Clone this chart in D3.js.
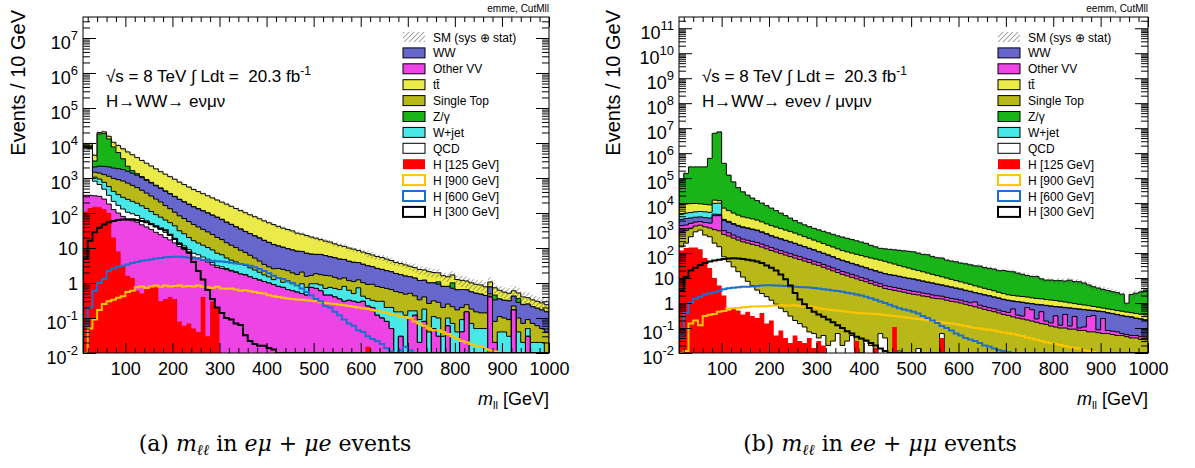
<!DOCTYPE html>
<html>
<head>
<meta charset="utf-8">
<script src="https://cdn.jsdelivr.net/npm/d3@7"></script>
<style>
  body { margin: 0; background: #fff; }
  svg text { font-family: "Liberation Sans", Arial, Helvetica, sans-serif; }
</style>
</head>
<body>
<svg id="chart" width="1195" height="468"></svg>
<script>
// lower edges of the 10 GeV m_ll bins (10 .. 990)
const binLow = d3.range(10, 1000, 10);

// ---------- (a) e-mu + mu-e channel, events / 10 GeV ----------
const otherVV_A = [320, 320, 310, 300, 250, 180, 125, 100, 80, 63,
  60, 55, 46, 40, 34, 28, 24, 20, 17, 14,
  11, 9, 7, 5.5, 5.2, 4.5, 4, 3.3, 2.8, 2.6,
  2.4, 2.2, 2.0, 1.8, 1.7, 1.5, 1.35, 1.2, 1.1, 1.0,
  0.9, 0.8, 0.75, 0.65, 0.6, 0.55, 0.5, 0.45, 0.75, 0.7,
  0.6, 0.45, 0.45, 0.4, 0.35, 0.3, 0.32, 0.3, 0.28, 0.3,
  0.22, 0.2, 0.12, 0.1, 0.08, 0.05, 0, 0.03, 0, 0.1,
  0.12, 0.02, 0.08, 0, 0.05, 0.03, 0, 0.06, 0, 0,
  0.04, 0.15, 0, 0, 0, 0, 0.4, 0.02, 0, 0,
  0, 0.17, 0, 0, 0.03, 0, 0, 0, 0];
const qcd_A = [7000, 6500, 500, 350, 230, 140, 90, 65, 50, 42,
  35, 30, 24, 20, 16, 12, 10, 8, 6, 5,
  3, 2.5, 2, 1.6, 1.2, 1, 0.8, 0.5, 0.3, 0.3,
  0.2, 0.1, 0.1, 0, 0.05, 0, 0, 0.03, 0, 0,
  0, 0, 0, 0, 0, 0, 0, 0, 0, 0,
  0, 0, 0, 0, 0, 0, 0, 0, 0, 0,
  0, 0, 0, 0, 0, 0, 0, 0, 0, 0,
  0, 0, 0, 0, 0, 0, 0, 0, 0, 0,
  0, 0, 0, 0, 0, 0, 0, 0, 0, 0,
  0, 0, 0, 0, 0, 0, 0, 0, 0];
const wjet_A = [150, 200, 250, 280, 270, 250, 200, 170, 150, 140,
  120, 105, 90, 75, 60, 50, 42, 35, 30, 24,
  17, 14, 11, 9, 7.5, 6.5, 5.5, 5, 4, 3.5,
  2.6, 2.2, 1.9, 1.6, 1.4, 1.2, 1.0, 0.8, 0.6, 0.5,
  0.35, 0.6, 0.3, 0.5, 0.35, 0.3, 0.45, 0.3, 0.2, 0.25,
  0.28, 0.25, 0.3, 0.3, 0.3, 0.5, 0.3, 0.2, 0.45, 0.12,
  0.14, 0.12, 0.18, 0.2, 0.12, 0.15, 0.15, 0.12, 0.12, 0.06,
  0.04, 0.07, 0.1, 0.04, 0.06, 0.07, 0.03, 0.04, 0.07, 0.04,
  0.05, 0, 0.07, 0.05, 0.05, 0.05, 0.02, 0, 0.04, 0.04,
  0.03, 0, 0.04, 0.02, 0.02, 0.02, 0.02, 0.02, 0.01];
const singleTop_A = [200, 300, 400, 450, 500, 550, 560, 560, 540, 470,
  400, 340, 285, 235, 195, 160, 130, 100, 80, 62,
  52, 44, 37, 31, 26, 22, 18.5, 15.5, 13, 11,
  9, 7.5, 6.3, 5.2, 4.3, 3.5, 2.8, 2.2, 1.7, 1.4,
  1.3, 1.2, 1.4, 1.1, 1.0, 0.9, 1.1, 0.8, 0.7, 0.9,
  0.85, 0.95, 0.85, 0.75, 0.65, 0.6, 0.55, 0.6, 0.5, 0.6,
  0.55, 0.6, 0.5, 0.45, 0.5, 0.45, 0.42, 0.38, 0.36, 0.35,
  0.27, 0.24, 0.22, 0.22, 0.2, 0.18, 0.17, 0.15, 0.14, 0.13,
  0.11, 0.09, 0.11, 0.1, 0.09, 0.09, 0.07, 0.06, 0.07, 0.06,
  0.06, 0.05, 0.06, 0.05, 0.04, 0.05, 0.04, 0.03, 0.03];
const ww_A = [300, 400, 600, 800, 900, 950, 950, 950, 930, 850,
  760, 670, 580, 490, 415, 350, 300, 255, 218, 188,
  160, 137, 119, 103, 91, 81, 71, 62, 55, 48,
  40, 35, 30, 26, 22, 19.5, 17, 15, 13, 11.5,
  10, 8.8, 8, 7.3, 6.8, 6.3, 5.9, 5.5, 5.0, 4.7,
  4.8, 4.4, 4.0, 3.8, 3.5, 3.3, 3.0, 2.8, 2.6, 2.4,
  2.2, 2.0, 1.8, 1.7, 1.55, 1.45, 1.3, 1.2, 1.1, 1.0,
  0.95, 0.85, 0.8, 0.75, 0.7, 0.65, 0.6, 0.55, 0.5, 0.47,
  0.45, 0.4, 0.38, 0.36, 0.34, 0.3, 0.28, 0.25, 0.24, 0.22,
  0.22, 0.2, 0.18, 0.17, 0.16, 0.14, 0.13, 0.12, 0.11];
const zgamma_A = [200, 600, 1000, 16000, 16500, 11000, 5800, 3500, 1800, 600,
  250, 130, 70, 45, 30, 20, 14, 10, 8, 6,
  4, 3, 2.5, 2, 1.6, 1.3, 1.1, 0.9, 0.8, 0.7,
  0.6, 0.5, 0.4, 0.4, 0.3, 0.3, 0.2, 0.2, 0.2, 0.15,
  0.1, 0.1, 0.1, 0.08, 0.05, 0.05, 0.05, 0.04, 0.03, 0.03,
  0.03, 0.02, 0.02, 0.02, 0.02, 0.01, 0.01, 0.01, 0.01, 0.01,
  0.01, 0, 0.01, 0, 0.01, 0, 0, 0.01, 0, 0,
  0, 0, 0, 0, 0, 0.15, 0, 0, 0.3, 0,
  0, 0, 0, 0, 0, 0, 0, 0.12, 0, 0,
  0, 0, 0.08, 0, 0, 0, 0, 0, 0];
const ttbar_A = [1100, 1200, 1400, 1800, 2200, 2500, 2800, 3100, 3300, 3400,
  3000, 2500, 2080, 1740, 1450, 1210, 1000, 860, 735, 625,
  516, 440, 374, 318, 277, 241, 210, 183, 159, 139,
  125, 108, 94, 82, 72, 63, 56, 49, 43, 38,
  34, 30, 26.5, 24, 22, 18.5, 17, 15.5, 14, 12.5,
  10.8, 9.7, 9.2, 7.9, 7.1, 6.4, 5.8, 5.4, 4.7, 4.2,
  3.8, 3.4, 3.1, 2.9, 2.55, 2.3, 2.0, 1.85, 1.7, 1.5,
  1.38, 1.25, 1.16, 1.1, 0.98, 0.88, 0.82, 0.7, 0.69, 0.62,
  0.54, 0.5, 0.45, 0.41, 0.4, 0.34, 0.3, 0.28, 0.27, 0.23,
  0.2, 0.18, 0.16, 0.16, 0.13, 0.12, 0.11, 0.1, 0.09];
const h125_A = [110, 140, 150, 145, 130, 100, 20, 8, 3.2, 1.6,
  1.4, 0.6, 0.5, 0.7, 0.8, 0.75, 0.3, 0.35, 0.4, 0.35,
  0.08, 0.06, 0.07, 0.05, 0.04, 0.4, 0.03, 0.3, 0.2, 0,
  0, 0, 0, 0, 0, 0, 0, 0, 0, 0,
  0, 0, 0, 0, 0, 0, 0, 0, 0, 0,
  0, 0, 0, 0, 0, 0, 0, 0, 0, 0,
  0.015, 0, 0, 0, 0, 0, 0, 0, 0, 0,
  0, 0, 0, 0, 0, 0, 0, 0, 0, 0,
  0, 0, 0, 0, 0, 0, 0, 0, 0, 0,
  0, 0, 0, 0, 0, 0, 0, 0, 0];
const h900_A = [0, 0.05, 0.09, 0.17, 0.25, 0.3, 0.33, 0.38, 0.42, 0.55,
  0.6, 0.75, 0.8, 0.72, 0.8, 0.85, 0.78, 0.85, 0.8, 0.82,
  0.85, 0.8, 0.82, 0.8, 0.85, 0.78, 0.75, 0.72, 0.78, 0.7,
  0.68, 0.7, 0.65, 0.6, 0.62, 0.58, 0.55, 0.52, 0.5, 0.45,
  0.42, 0.4, 0.38, 0.36, 0.35, 0.34, 0.33, 0.32, 0.31, 0.3,
  0.28, 0.27, 0.26, 0.25, 0.24, 0.23, 0.22, 0.21, 0.2, 0.19,
  0.18, 0.17, 0.16, 0.15, 0.14, 0.13, 0.12, 0.11, 0.105, 0.1,
  0.08, 0.07, 0.06, 0.05, 0.045, 0.045, 0.04, 0.035, 0.03, 0.025,
  0.022, 0.02, 0.018, 0.016, 0.015, 0.013, 0.012, 0.011, 0, 0,
  0, 0, 0, 0, 0, 0, 0, 0, 0];
const h600_A = [0.06, 0.2, 0.6, 1.0, 1.3, 2.2, 2.6, 2.9, 3.1, 3.4,
  3.7, 4.0, 4.3, 4.5, 4.7, 5.0, 5.2, 5.4, 5.5, 5.6,
  5.6, 5.5, 5.3, 5.1, 4.9, 4.6, 4.5, 4.3, 4.2, 4.1,
  4.0, 3.8, 3.6, 3.5, 3.3, 3.1, 2.8, 2.5, 2.2, 1.9,
  1.6, 1.4, 1.3, 1.1, 1.0, 0.85, 0.7, 0.55, 0.45, 0.35,
  0.3, 0.22, 0.2, 0.15, 0.12, 0.09, 0.07, 0.06, 0.045, 0.04,
  0.03, 0.025, 0.022, 0.018, 0.014, 0.011, 0.009, 0.012, 0.015, 0.012,
  0.008, 0, 0, 0, 0, 0, 0, 0, 0, 0,
  0, 0, 0, 0, 0, 0, 0, 0, 0, 0,
  0, 0, 0, 0, 0, 0, 0, 0, 0];
const h300_A = [5, 16, 28, 38, 47, 54, 59, 63, 65, 66,
  66, 63, 59, 54, 48, 42, 36, 32, 24, 18,
  13, 10, 7.6, 4, 2.2, 1.26, 0.63, 0.35, 0.2, 0.14,
  0.1, 0.09, 0.07, 0.063, 0.032, 0.022, 0.018, 0.016, 0.016, 0.014,
  0.0125, 0.01, 0, 0, 0, 0, 0, 0, 0, 0,
  0, 0, 0, 0, 0, 0, 0, 0, 0, 0,
  0, 0, 0, 0, 0, 0, 0, 0, 0, 0,
  0, 0, 0, 0, 0, 0, 0, 0, 0, 0,
  0, 0, 0, 0, 0, 0, 0, 0, 0, 0,
  0, 0, 0, 0, 0, 0, 0, 0, 0];
// relative SM uncertainty, one value per 100 GeV
const sys_A = [0.12, 0.06, 0.07, 0.09, 0.12, 0.15, 0.2, 0.28, 0.35, 0.4];

// ---------- (b) e-e + mu-mu channel ----------
const qcd_B = [178, 250, 450, 710, 830, 525, 450, 250, 180, 71,
  45, 28, 18, 11, 7.4, 5, 3.3, 2.4, 1.8, 1.3,
  0.9, 0.62, 0.45, 0.3, 0.2, 0.15, 0.11, 0.07, 0.06, 0.04,
  0.05, 0.02, 0.03, 0.06, 0.02, 0.03, 0.05, 0.015, 0, 0.03,
  0.02, 0, 0.06, 0.04, 0, 0, 0.012, 0, 0, 0,
  0.015, 0, 0, 0, 0, 0.06, 0, 0, 0, 0,
  0, 0, 0, 0, 0, 0, 0, 0, 0, 0,
  0, 0, 0, 0, 0, 0, 0, 0, 0, 0,
  0, 0, 0, 0, 0, 0, 0, 0, 0, 0,
  0, 0, 0, 0, 0, 0, 0, 0, 0];
const singleTop_B = [530, 560, 540, 500, 480, 600, 560, 620, 600, 490,
  435, 370, 313, 271, 244, 219, 197, 172, 146, 125,
  110, 95, 83, 72, 63, 55, 48, 42, 36, 32,
  27, 23, 19.5, 16.6, 14, 12.3, 10.7, 9.3, 8.1, 7.1,
  6.0, 5.2, 4.5, 3.8, 3.5, 3.2, 2.95, 2.7, 2.45, 2.24,
  2.1, 1.9, 1.8, 1.6, 1.5, 1.4, 1.3, 1.17, 1.1, 1.0,
  0.89, 0.79, 0.71, 0.63, 0.56, 0.5, 0.45, 0.4, 0.35, 0.32,
  0.28, 0.25, 0.23, 0.21, 0.19, 0.17, 0.15, 0.14, 0.12, 0.11,
  0.1, 0.1, 0.09, 0.09, 0.08, 0.08, 0.07, 0.07, 0.065, 0.06,
  0.06, 0.055, 0.05, 0.05, 0.045, 0.04, 0.04, 0.035, 0.034];
const otherVV_B = [550, 520, 560, 540, 520, 540, 580, 2270, 2370, 230,
  167, 127, 106, 81, 73, 71, 63, 55, 47, 40,
  33, 29, 25, 22, 19, 16.5, 14, 12.5, 11, 9.5,
  8, 7, 6, 5, 4.2, 3.7, 3.2, 2.8, 2.4, 2.1,
  1.8, 1.6, 1.35, 1.15, 1.05, 1.0, 0.9, 0.8, 0.75, 0.7,
  0.65, 0.6, 0.55, 0.5, 0.45, 0.42, 0.38, 0.35, 0.33, 0.3,
  0.27, 0.24, 0.4, 0.19, 0.17, 0.15, 0.14, 0.12, 0.11, 0.1,
  0.3, 0.08, 0.07, 0.45, 0.35, 0.06, 0.3, 0.05, 0.04, 0.2,
  0.03, 0.25, 0.03, 0.2, 0.02, 0.03, 0.22, 0.25, 0.02, 0.18,
  0.02, 0.02, 0.02, 0.01, 0.01, 0.01, 0.01, 0.01, 0.01];
const ww_B = [980, 1080, 1000, 970, 970, 970, 930, 470, 390, 1200,
  1050, 890, 763, 687, 631, 576, 531, 447, 380, 313,
  274, 239, 208, 181, 158, 132, 116, 97, 85, 71,
  61, 52, 44, 37, 32, 28, 24, 21, 18.3, 16,
  14, 12.3, 10.8, 9.8, 8.9, 8.4, 7.6, 7.0, 6.4, 6.0,
  5.4, 4.9, 4.4, 4.1, 3.65, 3.3, 3.0, 2.75, 2.45, 2.25,
  2.0, 1.85, 1.46, 1.52, 1.36, 1.26, 1.12, 1.03, 0.92, 0.84,
  0.59, 0.79, 0.75, 0.31, 0.39, 0.63, 0.38, 0.6, 0.58, 0.4,
  0.55, 0.3, 0.5, 0.3, 0.46, 0.43, 0.22, 0.17, 0.38, 0.21,
  0.32, 0.3, 0.27, 0.25, 0.23, 0.22, 0.19, 0.18, 0.16];
const wjet_B = [1310, 1600, 1660, 1740, 1820, 1840, 1760, 6140, 6450, 240,
  160, 100, 90, 70, 65, 41, 38, 32, 28, 18,
  14, 11, 9.5, 8, 7, 6, 5.3, 4.5, 4, 3.4,
  2.9, 2.4, 2.1, 1.8, 1.5, 1.3, 1.1, 1.0, 0.9, 0.75,
  0.65, 0.6, 0.5, 0.45, 0.4, 0.38, 0.35, 0.3, 0.29, 0.27,
  0.24, 0.22, 0.2, 0.19, 0.17, 0.15, 0.14, 0.13, 0.12, 0.1,
  0.09, 0.09, 0.08, 0.07, 0.06, 0.06, 0.05, 0.05, 0.04, 0.04,
  0.04, 0.03, 0.03, 0.03, 0.03, 0.03, 0.02, 0.02, 0.02, 0.02,
  0.02, 0.02, 0.02, 0.02, 0.02, 0.015, 0.015, 0.015, 0.015, 0.01,
  0.01, 0.01, 0.01, 0.01, 0.01, 0.01, 0.01, 0.01, 0.01];
const ttbar_B = [5350, 5300, 5400, 5200, 4760, 4430, 4230, 3430, 2600, 4070,
  3150, 2470, 2020, 1700, 1550, 1430, 1260, 1070, 877, 759,
  667, 581, 507, 441, 384, 327, 274, 233, 195, 167,
  142, 120, 103, 87, 74, 67, 61, 55, 50, 45,
  41, 38, 35, 31.5, 26.8, 23.3, 19.8, 17.4, 15.3, 13.2,
  11.6, 10.2, 8.9, 7.7, 6.8, 5.9, 5.2, 4.5, 3.9, 3.4,
  3.05, 2.65, 2.25, 1.96, 1.74, 1.5, 1.34, 1.1, 0.98, 0.84,
  0.8, 0.75, 0.74, 0.74, 0.66, 0.63, 0.63, 0.57, 0.56, 0.53,
  0.47, 0.43, 0.38, 0.34, 0.31, 0.28, 0.26, 0.22, 0.2, 0.17,
  0.17, 0.16, 0.15, 0.15, 0.14, 0.13, 0.13, 0.12, 0.12];
const zgamma_B = [74000, 146000, 272000, 272000, 272000, 273000, 608000, 6160000, 7070000, 383000,
  127000, 66800, 38400, 25400, 18300, 13500, 10500, 8220, 6460, 5050,
  3916, 3026, 2330, 1788, 1364, 1085, 892, 759, 646, 569,
  501, 442, 388, 342, 311, 277, 247, 220, 196, 174,
  141, 120, 102, 101, 100, 99, 97, 95, 92, 90,
  80, 71, 70, 58, 52, 52, 42.5, 39, 36.8, 32.7,
  30.9, 28.3, 26, 26, 22.4, 21, 19.8, 17, 17.6, 16.5,
  15.8, 13.9, 12.3, 10.9, 9.9, 10, 7.8, 6.9, 7.0, 6.6,
  6.7, 6.5, 7.2, 6.3, 6.2, 5.5, 4.5, 3.75, 3.3, 2.9,
  2.6, 2.3, 2.1, 1.8, 0.55, 1.8, 2.1, 2.4, 3.0];
const h125_B = [126, 158, 166, 166, 141, 63, 25, 10, 5, 2,
  0.5, 0.63, 0.5, 0.35, 0.45, 0.3, 0.25, 0.4, 0.15, 0.2,
  0.05, 0.08, 0.04, 0.025, 0.05, 0.03, 0.025, 0.04, 0.016, 0.03,
  0.02, 0, 0, 0, 0, 0, 0, 0.03, 0, 0,
  0, 0.016, 0, 0, 0, 0.11, 0, 0, 0, 0,
  0, 0, 0, 0, 0, 0.04, 0, 0, 0, 0,
  0, 0, 0, 0, 0, 0, 0, 0, 0, 0,
  0, 0, 0, 0, 0, 0, 0, 0, 0, 0,
  0, 0, 0, 0, 0, 0, 0, 0, 0, 0,
  0, 0, 0, 0, 0, 0, 0, 0, 0];
const h900_B = [0, 0.012, 0.15, 0.2, 0.13, 0.3, 0.34, 0.36, 0.45, 0.48,
  0.6, 0.62, 0.63, 0.68, 0.7, 0.72, 0.72, 0.75, 0.75, 0.78,
  0.8, 0.82, 0.8, 0.8, 0.82, 0.78, 0.75, 0.72, 0.68, 0.62,
  0.58, 0.55, 0.52, 0.5, 0.48, 0.45, 0.43, 0.41, 0.39, 0.38,
  0.37, 0.36, 0.35, 0.33, 0.32, 0.3, 0.29, 0.27, 0.26, 0.24,
  0.23, 0.22, 0.2, 0.19, 0.18, 0.17, 0.16, 0.15, 0.14, 0.13,
  0.12, 0.11, 0.1, 0.095, 0.09, 0.085, 0.08, 0.072, 0.066, 0.062,
  0.058, 0.052, 0.048, 0.042, 0.038, 0.034, 0.03, 0.027, 0.025, 0.023,
  0.021, 0.019, 0.017, 0.016, 0.015, 0.013, 0.012, 0.011, 0, 0,
  0, 0, 0, 0, 0, 0, 0, 0, 0];
const h600_B = [0.05, 0.4, 1.0, 1.5, 1.8, 2.2, 2.45, 2.7, 3.0, 3.6,
  3.9, 4.1, 4.3, 4.5, 4.5, 4.6, 4.8, 5.0, 5.2, 5.1,
  5.0, 4.9, 4.8, 4.6, 4.5, 4.4, 4.3, 4.2, 4.0, 3.8,
  3.6, 3.4, 3.2, 3.0, 2.8, 2.6, 2.4, 2.2, 2.0, 1.8,
  1.55, 1.35, 1.15, 1.0, 0.85, 0.72, 0.62, 0.55, 0.5, 0.45,
  0.38, 0.3, 0.25, 0.2, 0.16, 0.12, 0.1, 0.08, 0.06, 0.05,
  0.04, 0.035, 0.03, 0.025, 0.02, 0.018, 0.015, 0.013, 0.012, 0.011,
  0, 0, 0, 0, 0, 0, 0, 0, 0, 0,
  0, 0, 0, 0, 0, 0, 0, 0, 0, 0,
  0, 0, 0, 0, 0, 0, 0, 0, 0];
const h300_B = [3.2, 11, 20, 26, 33, 40, 46, 50, 54, 58,
  60, 62, 60, 58, 54, 50, 46, 40, 32, 26,
  20, 14, 8.9, 5, 2.5, 1.4, 0.89, 0.63, 0.45, 0.35,
  0.28, 0.22, 0.17, 0.13, 0.1, 0.075, 0.06, 0.045, 0.038, 0.032,
  0.025, 0.02, 0.015, 0.012, 0.01, 0, 0, 0, 0, 0,
  0, 0, 0, 0, 0, 0, 0, 0, 0, 0,
  0, 0, 0, 0, 0, 0, 0, 0, 0, 0,
  0, 0, 0, 0, 0, 0, 0, 0, 0, 0,
  0, 0, 0, 0, 0, 0, 0, 0, 0, 0,
  0, 0, 0, 0, 0, 0, 0, 0, 0];
const sys_B = [0.1, 0.06, 0.07, 0.08, 0.1, 0.13, 0.16, 0.2, 0.25, 0.3];

// axis tick labels
const xMajor = [100, 200, 300, 400, 500, 600, 700, 800, 900, 1000];
const xMinor = d3.range(20, 1000, 20).filter(v => v % 100 !== 0);

const styles = {
  ww:        { label: 'WW',          fill: '#6666cc' },
  otherVV:   { label: 'Other VV',    fill: '#ee44e6' },
  ttbar:     { label: 'tt\u0304',    fill: '#eaea48' },
  singleTop: { label: 'Single Top',  fill: '#b8b818' },
  zgamma:    { label: 'Z/\u03b3',    fill: '#18b418' },
  wjet:      { label: 'W+jet',       fill: '#48e8e8' },
  qcd:       { label: 'QCD',         fill: '#ffffff' },
  h125:      { label: 'H [125 GeV]', fill: '#ff0000' },
  h900:      { label: 'H [900 GeV]', line: '#ffc400' },
  h600:      { label: 'H [600 GeV]', line: '#1e6fcd' },
  h300:      { label: 'H [300 GeV]', line: '#000000' }
};
const legendOrder = ['ww', 'otherVV', 'ttbar', 'singleTop', 'zgamma', 'wjet', 'qcd', 'h125', 'h900', 'h600', 'h300'];

const panels = [
  {
    id: 'a', left: 83, right: 549, top: 17, bottom: 353, yMax: Math.pow(10, 7.6),
    stack: ['otherVV', 'qcd', 'wjet', 'singleTop', 'ww', 'zgamma', 'ttbar'],
    data: { otherVV: otherVV_A, qcd: qcd_A, wjet: wjet_A, singleTop: singleTop_A, ww: ww_A,
            zgamma: zgamma_A, ttbar: ttbar_A, h125: h125_A, h900: h900_A, h600: h600_A, h300: h300_A },
    sys: sys_A, header: 'emme, CutMll', channel: 'H\u2192WW\u2192 e\u03bd\u03bc\u03bd',
    textX: 106, titleX: 25, legendX: 403, captionX: 275,
    caption: ['(a) ', 'e\u03bc', '\u03bce']
  },
  {
    id: 'b', left: 679, right: 1148, top: 17, bottom: 353, yMax: Math.pow(10, 11.45),
    stack: ['qcd', 'singleTop', 'otherVV', 'ww', 'wjet', 'ttbar', 'zgamma'],
    data: { otherVV: otherVV_B, qcd: qcd_B, wjet: wjet_B, singleTop: singleTop_B, ww: ww_B,
            zgamma: zgamma_B, ttbar: ttbar_B, h125: h125_B, h900: h900_B, h600: h600_B, h300: h300_B },
    sys: sys_B, header: 'eemm, CutMll', channel: 'H\u2192WW\u2192 e\u03bde\u03bd / \u03bc\u03bd\u03bc\u03bd',
    textX: 702, titleX: 620, legendX: 998, captionX: 880,
    caption: ['(b) ', 'ee', '\u03bc\u03bc']
  }
];

const svg = d3.select('#chart');
const defs = svg.append('defs');
defs.append('pattern')
  .attr('id', 'hatch').attr('patternUnits', 'userSpaceOnUse')
  .attr('width', 3.5).attr('height', 3.5).attr('patternTransform', 'rotate(45)')
  .append('line').attr('x1', 0).attr('y1', 0).attr('x2', 0).attr('y2', 3.5)
  .attr('stroke', '#444').attr('stroke-width', 0.9);

panels.forEach(drawPanel);

function drawPanel(p) {
  const g = svg.append('g');
  const x = d3.scaleLinear().domain([10, 1000]).range([p.left, p.right]);
  const y = d3.scaleLog().domain([0.01, p.yMax]).range([p.bottom, p.top]).clamp(true);
  const yv = v => y(v > 0.01 ? v : 0.01);

  // histogram outline as steps
  const steps = vals => {
    let d = `M${x(10)},${yv(0)}`;
    binLow.forEach((lo, i) => {
      const v = vals[i] || 0;
      d += `L${x(lo)},${yv(v)}L${x(lo + 10)},${yv(v)}`;
    });
    return d + `L${x(1000)},${yv(0)}`;
  };

  defs.append('clipPath').attr('id', 'clip-' + p.id)
    .append('rect').attr('x', p.left).attr('y', p.top)
    .attr('width', p.right - p.left).attr('height', p.bottom - p.top);
  const plot = g.append('g').attr('clip-path', `url(#clip-${p.id})`);

  // stacked backgrounds
  let cum = binLow.map(() => 0);
  const layers = p.stack.map(key => {
    cum = cum.map((c, i) => c + (p.data[key][i] || 0));
    return { key, tops: cum.slice() };
  });
  layers.slice().reverse().forEach(layer => {
    plot.append('path').attr('d', steps(layer.tops) + 'Z')
      .attr('fill', styles[layer.key].fill);
    plot.append('path').attr('d', steps(layer.tops))
      .attr('fill', 'none').attr('stroke', '#000').attr('stroke-width', 1);
  });

  // SM uncertainty band
  const total = layers[layers.length - 1].tops;
  plot.append('g').selectAll('rect').data(total).join('rect')
    .attr('x', (d, i) => x(binLow[i]))
    .attr('width', (d, i) => x(binLow[i] + 10) - x(binLow[i]))
    .attr('y', (d, i) => yv(d * (1 + p.sys[Math.floor(i / 10)])))
    .attr('height', (d, i) => {
      const s = p.sys[Math.floor(i / 10)];
      return Math.max(0, yv(d * (1 - s)) - yv(d * (1 + s)));
    })
    .attr('fill', 'url(#hatch)');

  // signal H [125 GeV] filled
  plot.append('path').attr('d', steps(p.data.h125) + 'Z').attr('fill', styles.h125.fill);

  // heavy Higgs signals as lines
  ['h900', 'h600', 'h300'].forEach(key => {
    plot.append('path').attr('d', steps(p.data[key]))
      .attr('fill', 'none').attr('stroke', styles[key].line).attr('stroke-width', 2);
  });

  // frame
  g.append('rect').attr('x', p.left).attr('y', p.top)
    .attr('width', p.right - p.left).attr('height', p.bottom - p.top)
    .attr('fill', 'none').attr('stroke', '#000').attr('stroke-width', 1);

  // x axes (ticks pointing inward)
  const bottomAxis = g.append('g').attr('transform', `translate(0,${p.bottom})`)
    .call(d3.axisBottom(x).tickValues(xMajor).tickSize(-10).tickPadding(9).tickFormat(d3.format('d')));
  bottomAxis.attr('font-size', 18).attr('font-family', '"Liberation Sans", Arial, sans-serif');
  g.append('g').attr('transform', `translate(0,${p.bottom})`)
    .call(d3.axisBottom(x).tickValues(xMinor).tickSize(-5).tickFormat(''));
  g.append('g').attr('transform', `translate(0,${p.top})`)
    .call(d3.axisTop(x).tickValues(xMajor).tickSize(-10).tickFormat(''));
  g.append('g').attr('transform', `translate(0,${p.top})`)
    .call(d3.axisTop(x).tickValues(xMinor).tickSize(-5).tickFormat(''));

  // y axes (log)
  const eMax = Math.floor(Math.log10(p.yMax) + 1e-9);
  const decades = d3.range(-2, eMax + 1).map(e => Math.pow(10, e));
  const yMinor = [];
  d3.range(-2, eMax + 1).forEach(e => {
    for (let k = 2; k <= 9; k++) {
      const v = k * Math.pow(10, e);
      if (v < p.yMax) yMinor.push(v);
    }
  });
  g.append('g').attr('transform', `translate(${p.left},0)`)
    .call(d3.axisLeft(y).tickValues(decades).tickSize(-13).tickFormat(''));
  g.append('g').attr('transform', `translate(${p.left},0)`)
    .call(d3.axisLeft(y).tickValues(yMinor).tickSize(-7).tickFormat(''));
  g.append('g').attr('transform', `translate(${p.right},0)`)
    .call(d3.axisRight(y).tickValues(decades).tickSize(-13).tickFormat(''));
  g.append('g').attr('transform', `translate(${p.right},0)`)
    .call(d3.axisRight(y).tickValues(yMinor).tickSize(-7).tickFormat(''));
  g.selectAll('.domain').remove();

  // y tick labels with exponents
  decades.forEach(v => {
    const e = Math.round(Math.log10(v));
    const t = g.append('text').attr('x', p.left - 5).attr('text-anchor', 'end')
      .attr('font-size', 18);
    if (e === 0 || e === 1) {
      t.attr('y', y(v) + 7).text(e === 0 ? '1' : '10');
    } else {
      t.attr('y', y(v) + 11).text('10');
      t.append('tspan').attr('dy', -9).attr('font-size', 13).text(e < 0 ? '-' + (-e) : e);
    }
  });

  // axis titles
  g.append('text').attr('transform', `translate(${p.titleX},10) rotate(-90)`)
    .attr('text-anchor', 'end').attr('font-size', 20).text('Events / 10 GeV');
  const xt = g.append('text').attr('x', p.right).attr('y', 405)
    .attr('text-anchor', 'end').attr('font-size', 18);
  xt.append('tspan').attr('font-style', 'italic').text('m');
  xt.append('tspan').attr('font-size', 11).attr('dy', 4).text('ll');
  xt.append('tspan').attr('dy', -4).text(' [GeV]');

  // header and labels
  g.append('text').attr('x', p.right).attr('y', 12).attr('text-anchor', 'end')
    .attr('font-size', 10).text(p.header);
  const lumi = g.append('text').attr('x', p.textX).attr('y', 82).attr('font-size', 17)
    .style('white-space', 'pre');
  lumi.append('tspan').text('\u221as = 8 TeV \u222b Ldt =  20.3 fb');
  lumi.append('tspan').attr('dy', -7).attr('font-size', 12).text('-1');
  g.append('text').attr('x', p.textX).attr('y', 107).attr('font-size', 17).text(p.channel);

  // legend
  const rowY = i => 37 + i * 15.9;
  const lg = g.append('g');
  lg.append('rect').attr('x', p.legendX).attr('y', rowY(0) - 5).attr('width', 22).attr('height', 10)
    .attr('fill', 'url(#hatch)');
  lg.append('text').attr('x', p.legendX + 30).attr('y', rowY(0) + 4.5).attr('font-size', 12)
    .text('SM (sys \u2295 stat)');
  legendOrder.forEach((key, j) => {
    const s = styles[key];
    const cy = rowY(j + 1);
    const box = lg.append('rect').attr('x', p.legendX).attr('y', cy - 5).attr('width', 22).attr('height', 10);
    if (s.line) box.attr('fill', '#fff').attr('stroke', s.line).attr('stroke-width', 2);
    else if (key === 'h125') box.attr('fill', s.fill);
    else box.attr('fill', s.fill).attr('stroke', '#000').attr('stroke-width', 1);
    lg.append('text').attr('x', p.legendX + 30).attr('y', cy + 4.5).attr('font-size', 12).text(s.label);
  });

  // caption below the panel
  const cap = svg.append('text').attr('x', p.captionX).attr('y', 451)
    .attr('text-anchor', 'middle').attr('font-size', 22)
    .style('font-family', '"DejaVu Serif", "Liberation Serif", serif').style('white-space', 'pre');
  cap.append('tspan').text(p.caption[0]);
  cap.append('tspan').attr('font-style', 'italic').text('m');
  cap.append('tspan').attr('font-style', 'italic').attr('font-size', 15).attr('dy', 4).text('\u2113\u2113');
  cap.append('tspan').attr('dy', -4).text(' in ');
  cap.append('tspan').attr('font-style', 'italic').text(p.caption[1]);
  cap.append('tspan').text(' + ');
  cap.append('tspan').attr('font-style', 'italic').text(p.caption[2]);
  cap.append('tspan').text(' events');
}
</script>
</body>
</html>
